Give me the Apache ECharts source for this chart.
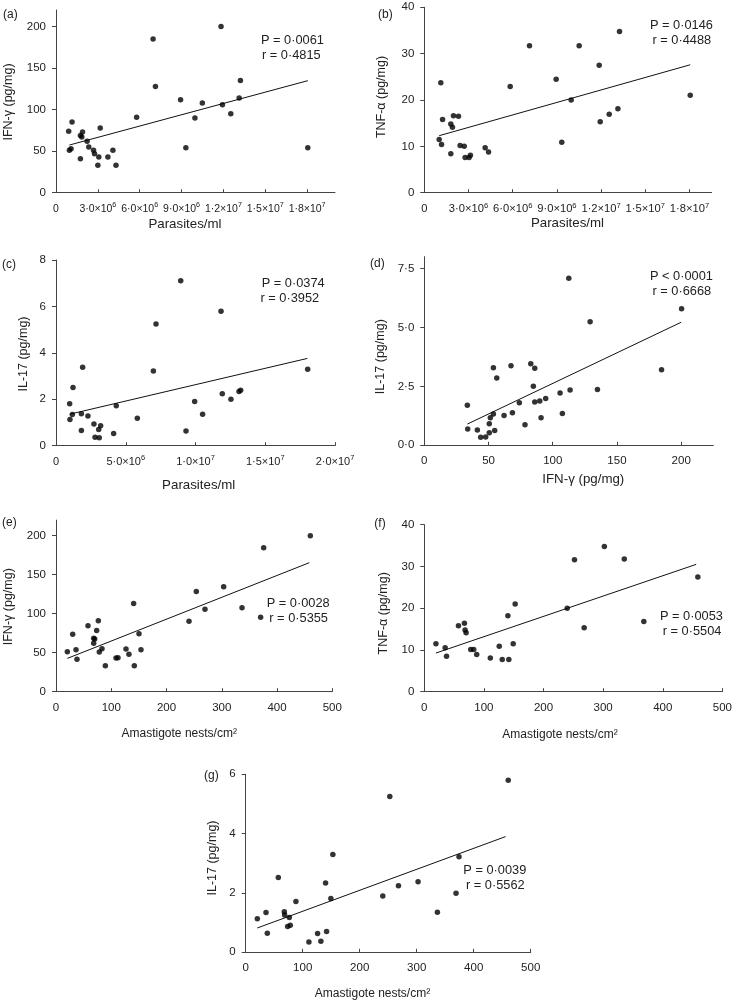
<!DOCTYPE html>
<html>
<head>
<meta charset="utf-8">
<script src="https://cdn.jsdelivr.net/npm/echarts@6/dist/echarts.min.js"></script>
<style>
  html, body { margin: 0; padding: 0; background: #fff; }
  #chart { width: 735px; height: 1000px; }
</style>
</head>
<body>
<div id="chart"></div>
<script>
// ---------- DATA ----------
// (a) Parasites/ml vs IFN-γ
const aParasites = [0.91e6,1.15e6,0.96e6,1.08e6,1.75e6,1.90e6,1.85e6,1.75e6,2.23e6,2.35e6,2.69e6,2.76e6,3.17e6,3.07e6,3.00e6,3.72e6,4.08e6,4.30e6,5.78e6,6.96e6,7.13e6,8.93e6,9.31e6,9.96e6,10.49e6,11.83e6,11.93e6,12.53e6,13.13e6,13.22e6,18.05e6];
const aIFN = [74,85,51,53,69,73,67,41,62,55,51,47,78,43,33,43,51,33,91,185,128,112,54,90,108,200,106,95,114,135,54];
const aTrend = [[0.96e6,57.4],[18.05e6,134.9]];

// (b) Parasites/ml vs TNF-α
const bParasites = [1.01e6,1.17e6,1.12e6,1.24e6,1.80e6,1.80e6,1.91e6,1.98e6,2.32e6,2.43e6,2.71e6,2.77e6,3.04e6,3.13e6,4.13e6,4.36e6,5.83e6,7.14e6,8.95e6,9.33e6,9.97e6,10.51e6,11.87e6,11.94e6,12.55e6,13.14e6,13.25e6,18.05e6];
const bTNF = [11.5,10.4,23.7,15.8,8.4,14.8,14.1,16.6,16.5,10.2,10.0,7.6,7.6,8.1,9.7,8.8,22.9,31.7,24.5,10.9,20.0,31.7,27.5,15.3,16.9,18.1,34.8,21.0];
const bTrend = [[1.01e6,12.3],[18.05e6,27.6]];

// (c) Parasites/ml vs IL-17
const cParasites = [0.98e6,1.00e6,1.17e6,1.22e6,1.82e6,1.82e6,1.91e6,2.29e6,2.72e6,2.80e6,3.06e6,3.10e6,3.20e6,4.13e6,4.32e6,5.83e6,6.98e6,7.17e6,8.94e6,9.32e6,9.94e6,10.51e6,11.83e6,11.92e6,12.54e6,13.12e6,13.24e6,18.04e6];
const cIL17 = [1.81,1.13,1.34,2.51,1.38,0.66,3.38,1.28,0.93,0.36,0.70,0.34,0.86,0.53,1.72,1.18,3.22,5.24,7.11,0.63,1.90,1.36,5.79,2.24,2.00,2.34,2.39,3.29];
const cTrend = [[1.0e6,1.36],[18.02e6,3.76]];

// (d) IFN-γ vs IL-17
const dIFN = [33.5,33.8,41.3,43.9,47.8,50.6,50.6,51.4,53.8,53.8,54.8,56.4,62.1,67.5,68.6,74.0,78.4,82.9,84.9,86.0,86.0,89.9,90.9,94.5,105.7,107.5,112.5,113.5,129.1,134.8,184.7,200.3];
const dIL17 = [1.70,0.69,0.65,0.34,0.35,0.53,0.91,1.17,3.29,1.33,0.63,2.85,1.26,3.37,1.38,1.80,0.87,3.46,2.50,3.27,1.84,1.88,1.17,1.98,2.22,1.35,7.09,2.35,5.24,2.37,3.20,5.79];
const dTrend = [[33.5,0.90],[200,5.22]];

// (e) Amastigote nests vs IFN-γ
const eNests = [20.5,30.2,36.2,38.0,57.9,68.2,70.0,68.2,73.6,76.6,78.4,83.2,89.3,108.6,112.2,126.7,132.0,140.5,141.7,150.2,153.8,240.7,253.9,269.6,303.4,336.6,370.3,375.8,460.2];
const eIFN = [51.3,73.5,53.8,41.5,84.6,68.4,67.5,62.0,78.6,91.0,50.9,55.1,33.3,43.2,43.6,54.7,47.9,113.2,33.3,74.4,53.8,90.2,128.6,105.6,134.6,107.7,95.3,184.6,200.0];
const eTrend = [[20.5,42.7],[458.4,165.4]];

// (f) Amastigote nests vs TNF-α
const fNests = [19.5,35.0,37.3,57.3,67.3,68.4,70.1,77.9,82.9,87.9,110.7,125.7,130.7,140.2,141.8,149.1,152.4,239.7,251.9,268.1,302.0,335.4,368.2,458.8];
const fTNF = [11.5,10.5,8.5,15.8,16.4,14.8,14.1,10.1,10.1,8.9,8.1,10.9,7.7,18.2,7.7,11.5,21.0,20.0,31.6,15.3,34.8,31.8,16.8,27.5];
const fTrend = [[19.5,9.26],[456,30.5]];

// (g) Amastigote nests vs IL-17
const gNests = [20.4,35.6,37.9,57.2,67.7,68.3,73.6,76.5,78.2,88.1,110.9,126.1,131.9,140.1,141.9,149.4,152.9,240.5,252.8,268.0,302.4,336.3,369.0,374.2,460.6];
const gIL17 = [1.13,1.34,0.64,2.52,1.37,1.26,0.87,1.17,0.91,1.71,0.35,0.63,0.37,2.34,0.70,1.81,3.30,1.90,5.25,2.24,2.38,1.35,1.99,3.22,5.80];
const gTrend = [[20.4,0.82],[455.9,3.9]];

// tick values
const parasiteTicks3 = [0,3e6,6e6,9e6,12e6,15e6,18e6];
const parasiteTicks5 = [0,5e6,10e6,15e6,20e6];
const ifnTicks = [0,50,100,150,200];
const tnfTicks = [0,10,20,30,40];
const il17Ticks8 = [0,2,4,6,8];
const il17Ticks75 = [0,2.5,5,7.5];
const il17Ticks6 = [0,2,4,6];
const nestTicks = [0,100,200,300,400,500];
const ifnXTicks = [0,50,100,150,200];

// stats text
const statsP = ['P = 0·0061','P = 0·0146','P = 0·0374','P < 0·0001','P = 0·0028','P = 0·0053','P = 0·0039'];
const statsR = ['r = 0·4815','r = 0·4488','r = 0·3952','r = 0·6668','r = 0·5355','r = 0·5504','r = 0·5562'];
const panelLabels = ['(a)','(b)','(c)','(d)','(e)','(f)','(g)'];

// ---------- CHART ----------
const FONT = "'Liberation Sans', Arial, Helvetica, sans-serif";
const TXT = '#222';
const AX = '#444';

function sciLabel(v) {
  if (v === 0) return '{m|0}';
  const e = Math.floor(Math.log10(v) + 1e-9);
  const m = v / Math.pow(10, e);
  return '{m|' + m.toFixed(1).replace('.', '·') + '×10}{s|' + e + '}';
}

const panels = [
  { grid: {left:56, top:10, width:279, height:182.7}, xMax:2.0e7, xTicks:parasiteTicks3, xFmt:sciLabel, xSize:10.5,
    yMax:220, yTicks:ifnTicks, yFmt:v=>String(v), xs:aParasites, ys:aIFN, trend:aTrend },
  { grid: {left:424.3, top:7.3, width:287.3, height:185.4}, xMax:1.95e7, xTicks:parasiteTicks3, xFmt:sciLabel, xSize:11.2,
    yMax:40, yTicks:tnfTicks, yFmt:v=>String(v), xs:bParasites, ys:bTNF, trend:bTrend },
  { grid: {left:56, top:260, width:279, height:185.7}, xMax:2.0e7, xTicks:parasiteTicks5, xFmt:sciLabel, xSize:11,
    yMax:8, yTicks:il17Ticks8, yFmt:v=>String(v), xs:cParasites, ys:cIL17, trend:cTrend },
  { grid: {left:424.3, top:256.7, width:289, height:188.6}, xMax:225, xTicks:ifnXTicks, xFmt:v=>'{m|'+v+'}', xSize:11.5,
    yMax:8, yTicks:il17Ticks75, yFmt:v=>v.toFixed(1).replace('.', '·'), xs:dIFN, ys:dIL17, trend:dTrend },
  { grid: {left:56, top:520.1, width:276.3, height:171.6}, xMax:500, xTicks:nestTicks, xFmt:v=>'{m|'+v+'}', xSize:11.5,
    yMax:220, yTicks:ifnTicks, yFmt:v=>String(v), xs:eNests, ys:eIFN, trend:eTrend },
  { grid: {left:424.3, top:524.7, width:299.7, height:167}, xMax:500, xTicks:nestTicks, xFmt:v=>'{m|'+v+'}', xSize:11.5,
    yMax:40, yTicks:tnfTicks, yFmt:v=>String(v), xs:fNests, ys:fTNF, trend:fTrend },
  { grid: {left:245.7, top:774.3, width:285, height:178}, xMax:500, xTicks:nestTicks, xFmt:v=>'{m|'+v+'}', xSize:11.5,
    yMax:6, yTicks:il17Ticks6, yFmt:v=>String(v), xs:gNests, ys:gIL17, trend:gTrend }
];

// text positions (graphic) : panel label, P, r, x title, y title
const textLayout = [
  { lab:[3,15], P:[261,40], r:[262,55], xt:[185,224,'Parasites/ml',13.3], yt:[9,102,'IFN-γ (pg/mg)',12.5] },
  { lab:[378,15], P:[650,25], r:[652.5,40], xt:[567.5,223.5,'Parasites/ml',13.3], yt:[382,97,'TNF-α (pg/mg)',12.5] },
  { lab:[2,265], P:[261.7,283.3], r:[260.5,298.3], xt:[198.7,485,'Parasites/ml',13.3], yt:[24,354,'IL-17 (pg/mg)',12.5] },
  { lab:[370,263.3], P:[650,276.7], r:[652.5,291.7], xt:[583.3,479.3,'IFN-γ (pg/mg)',13.3], yt:[381,356.7,'IL-17 (pg/mg)',12.5] },
  { lab:[2,522.3], P:[266.7,603.3], r:[269.3,618.3], xt:[179.2,734,'Amastigote nests/cm²',12], yt:[9,606.7,'IFN-γ (pg/mg)',12.5] },
  { lab:[374.3,523.3], P:[660,616.7], r:[662.7,631.7], xt:[560,735,'Amastigote nests/cm²',12], yt:[384,613.3,'TNF-α (pg/mg)',12.5] },
  { lab:[204,776], P:[463.3,870], r:[466,885], xt:[372.5,993.3,'Amastigote nests/cm²',12], yt:[212.5,858,'IL-17 (pg/mg)',12.5] }
];

const option = { animation:false, backgroundColor:'#fff', grid:[], xAxis:[], yAxis:[], series:[], graphic:[] };

panels.forEach((p, i) => {
  option.grid.push(Object.assign({ containLabel:false }, p.grid));
  option.xAxis.push({
    type:'value', gridIndex:i, min:0, max:p.xMax,
    splitLine:{show:false},
    axisLine:{show:true, onZero:false, lineStyle:{color:AX, width:1}},
    axisTick:{show:true, inside:true, length:3.5, customValues:p.xTicks, lineStyle:{color:AX}},
    axisLabel:{show:true, margin:9, customValues:p.xTicks, formatter:p.xFmt,
      rich:{ m:{fontFamily:FONT, fontSize:p.xSize, color:TXT, lineHeight:14},
             s:{fontFamily:FONT, fontSize:p.xSize*0.68, color:TXT, verticalAlign:'top', lineHeight:8} } }
  });
  option.yAxis.push({
    type:'value', gridIndex:i, min:0, max:p.yMax,
    splitLine:{show:false},
    axisLine:{show:true, onZero:false, lineStyle:{color:AX, width:1}},
    axisTick:{show:true, inside:false, length:4, customValues:p.yTicks, lineStyle:{color:AX}},
    axisLabel:{show:true, margin:10, customValues:p.yTicks, formatter:p.yFmt,
      fontFamily:FONT, fontSize:11.5, color:TXT }
  });
  option.series.push({
    type:'line', xAxisIndex:i, yAxisIndex:i, data:p.trend, symbol:'none', silent:true,
    lineStyle:{color:'#111', width:1}, z:2
  });
  option.series.push({
    type:'scatter', xAxisIndex:i, yAxisIndex:i, symbol:'circle', symbolSize:5.5,
    itemStyle:{color:'#000'}, data:p.xs.map((x, k) => [x, p.ys[k]]), z:3
  });

  const t = textLayout[i];
  const txt = (x, y, s, size, align, extra) => Object.assign({
    type:'text', x:x, y:y, silent:true,
    style:{ text:s, fill:TXT, fontFamily:FONT, fontSize:size, textAlign:align, textVerticalAlign:'middle' }
  }, extra || {});
  option.graphic.push(txt(t.lab[0], t.lab[1], panelLabels[i], 12, 'left'));
  option.graphic.push(txt(t.P[0], t.P[1], statsP[i], 12.8, 'left'));
  option.graphic.push(txt(t.r[0], t.r[1], statsR[i], 12.8, 'left'));
  option.graphic.push(txt(t.xt[0], t.xt[1], t.xt[2], t.xt[3], 'center'));
  option.graphic.push(txt(t.yt[0], t.yt[1], t.yt[2], t.yt[3], 'center', { rotation: Math.PI/2 }));
});

const chart = echarts.init(document.getElementById('chart'), null, { renderer:'canvas' });
chart.setOption(option);
</script>
</body>
</html>
